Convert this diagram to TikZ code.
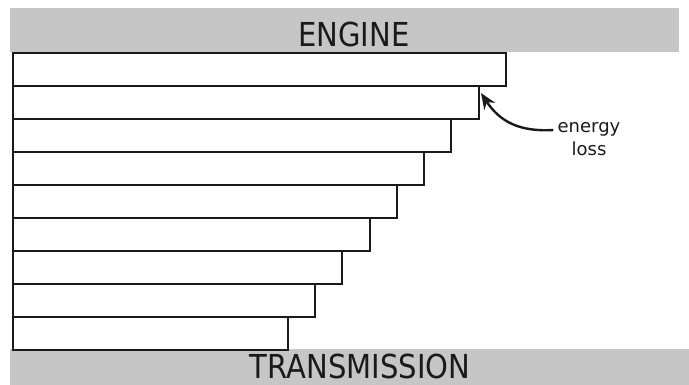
\documentclass[tikz,border=0pt]{standalone}
\usepackage{fontspec}
\setmainfont{DejaVu Sans}
\newfontfamily\condfont[FakeStretch=0.88]{DejaVu Sans}
\usetikzlibrary{arrows.meta}
\definecolor{bannergray}{HTML}{C6C6C6}
\definecolor{ink}{HTML}{1A1A1A}
\tikzset{
  banner/.style={fill=bannergray, draw=none, inner sep=0pt, anchor=north west},
  bannertext/.style={font=\condfont\fontsize{33}{36}\selectfont, text=ink, inner sep=0pt},
  barbox/.style={draw=ink, fill=white, line width=2.2pt, inner sep=0pt, anchor=north west, minimum height=33pt},
  labeltext/.style={font=\fontsize{18}{23}\selectfont, text=ink, align=center, inner sep=0pt},
  lossarrow/.style={draw=ink, line width=2.4pt, -{Stealth[length=16pt,width=13pt]}}
}
\begin{document}
\begin{tikzpicture}[x=1pt,y=-1pt]
\useasboundingbox (0,0) rectangle (689,385);
\node[banner, minimum width=669pt, minimum height=44pt] (engine) at (10,8) {};
\node[bannertext] (enginetext) at (354,34) {ENGINE};
\node[banner, minimum width=679pt, minimum height=40pt] (trans) at (10,349) {};
\node[bannertext] (transtext) at (360,366) {TRANSMISSION};
\node[barbox, minimum width=493pt] (b1) at (12,52) {};
\node[barbox, minimum width=466pt] (b2) at (12,85) {};
\node[barbox, minimum width=438pt] (b3) at (12,118) {};
\node[barbox, minimum width=411pt] (b4) at (12,151) {};
\node[barbox, minimum width=384pt] (b5) at (12,184) {};
\node[barbox, minimum width=357pt] (b6) at (12,217) {};
\node[barbox, minimum width=329pt] (b7) at (12,250) {};
\node[barbox, minimum width=302pt] (b8) at (12,283) {};
\node[barbox, minimum width=275pt] (b9) at (12,316) {};
\node[labeltext] (loss) at (589,139) {energy\\loss};
\coordinate (tip) at (481,93);
\draw[lossarrow] (loss.west) ++(-4,-9) .. controls (520,132) and (500,122) .. (tip);
\end{tikzpicture}
\end{document}
